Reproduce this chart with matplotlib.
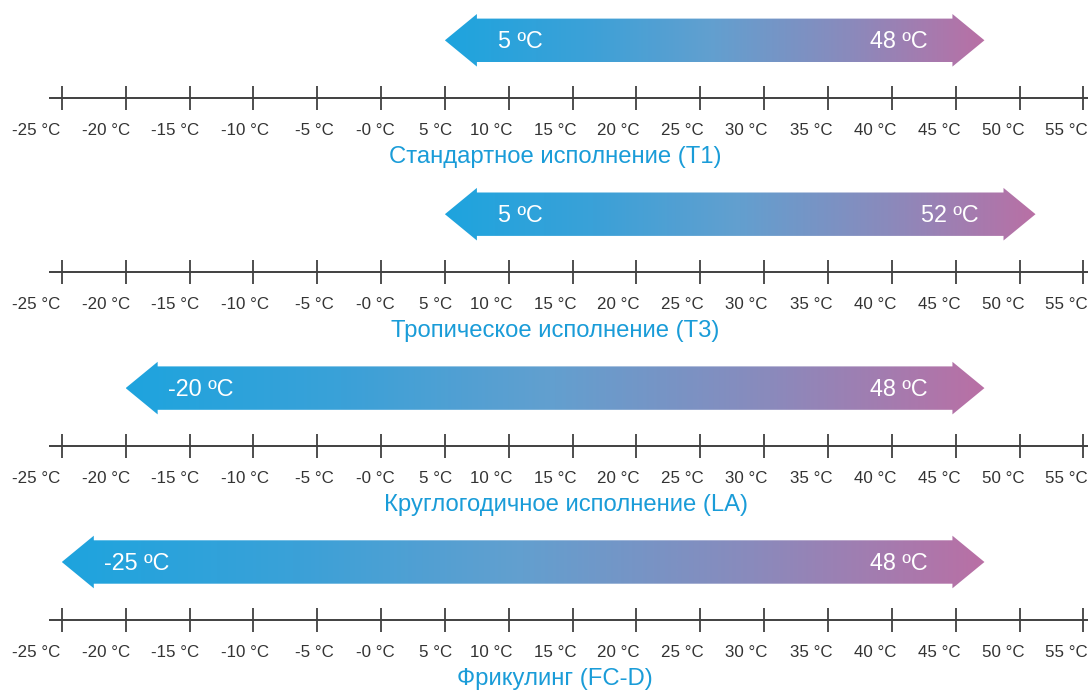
import numpy as np
import matplotlib
matplotlib.use("Agg")
import matplotlib.pyplot as plt
from matplotlib.patches import Polygon
from matplotlib.colors import LinearSegmentedColormap
import matplotlib.transforms as mtransforms

# ---------------- data ----------------
tick_values = [-25, -20, -15, -10, -5, 0, 5, 10, 15, 20, 25, 30, 35, 40, 45, 50, 55]
tick_labels = ["-25 °C", "-20 °C", "-15 °C", "-10 °C", "-5 °C", "-0 °C", "5 °C", "10 °C",
               "15 °C", "20 °C", "25 °C", "30 °C", "35 °C", "40 °C", "45 °C", "50 °C", "55 °C"]
titles = ["Стандартное исполнение (T1)",
          "Тропическое исполнение (T3)",
          "Круглогодичное исполнение (LA)",
          "Фрикулинг (FC-D)"]
range_low = [5, 5, -20, -25]
range_high = [48, 52, 48, 48]
low_labels = ["5 ºC", "5 ºC", "-20 ºC", "-25 ºC"]
high_labels = ["48 ºC", "52 ºC", "48 ºC", "48 ºC"]

# ---------------- layout / style ----------------
W, H = 1088, 691
ppd = 12.77                 # pixels per degree
x_first = 61.8              # pixel of the -25 tick
xmin = tick_values[0] - x_first / ppd
xmax = xmin + W / ppd
row_y0, row_dy = 98.3, 173.9
label_shift_px = [-25.9, -19.9, -14.3, -8.6, -2.5, -5.7, -9.4, -18.0, -17.8, -18.0,
                  -18.1, -17.7, -17.2, -17.1, -16.7, -16.3, -16.7]
title_center_px = [555, 555, 566, 555]
right_tip_shift = -0.75     # degrees
line_color = "#404040"
label_color = "#333333"
title_color = "#1a9cd8"
font = ["Liberation Sans", "DejaVu Sans"]

cmap = LinearSegmentedColormap.from_list(
    "arr", [(0.0, "#1ea4de"), (0.25, "#3aa1d8"), (0.5, "#639fcf"),
            (0.75, "#8a8abc"), (1.0, "#b970a5")])

fig = plt.figure(figsize=(W / 100, H / 100), dpi=100)
ax = fig.add_axes([0, 0, 1, 1])
ax.axis("off")

blend = mtransforms.blended_transform_factory(fig.transFigure, ax.transData)

for i in range(len(titles)):
    yl = row_y0 + i * row_dy
    yc = yl - 58

    # axis line and ticks
    ax.plot([xmin + 49 / ppd, xmax], [yl, yl], color=line_color, lw=1.4,
            solid_capstyle="butt")
    ax.vlines(tick_values, yl - 12, yl + 12, color=line_color, lw=1.3)
    for v, lab, sh in zip(tick_values, tick_labels, label_shift_px):
        tr = ax.transData + mtransforms.ScaledTranslation(sh / 100, 0, fig.dpi_scale_trans)
        ax.text(v, yl + 37, lab, transform=tr, ha="center", va="baseline",
                fontsize=12.2, color=label_color, family=font)

    # gradient arrow
    L = range_low[i]
    R = range_high[i] + right_tip_shift
    h = 32 / ppd
    hh, bh = 26.3, 21.7
    pts = [(L, yc), (L + h, yc - hh), (L + h, yc - bh), (R - h, yc - bh),
           (R - h, yc - hh), (R, yc), (R - h, yc + hh), (R - h, yc + bh),
           (L + h, yc + bh), (L + h, yc + hh)]
    poly = Polygon(pts, closed=True, facecolor="none", edgecolor="none")
    ax.add_patch(poly)
    grad = np.linspace(0, 1, 512).reshape(1, -1)
    im = ax.imshow(grad, cmap=cmap, extent=(L, R, yc + hh + 1, yc - hh - 1),
                   aspect="auto", interpolation="bilinear", zorder=2)
    im.set_clip_path(poly)

    ax.text(L + 75 / ppd, yc + 8, low_labels[i], ha="center", va="baseline",
            fontsize=16.8, color="white", family=font, zorder=3)
    ax.text(R - 86 / ppd, yc + 8, high_labels[i], ha="center", va="baseline",
            fontsize=16.8, color="white", family=font, zorder=3)

    # title
    ax.text(title_center_px[i] / W, yl + 65, titles[i], transform=blend,
            ha="center", va="baseline", fontsize=17.2, color=title_color, family=font)

ax.set_xlim(xmin, xmax)
ax.set_ylim(H, 0)
fig.savefig("out.png", dpi=100, facecolor="white")
